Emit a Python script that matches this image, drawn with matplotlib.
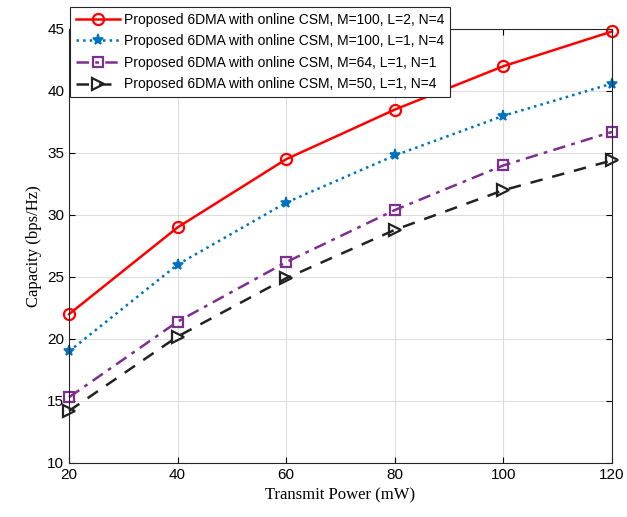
import matplotlib
matplotlib.use("Agg")
import matplotlib.pyplot as plt

power = [20, 40, 60, 80, 100, 120]
cap_m100_l2 = [22.0, 29.0, 34.5, 38.5, 42.0, 44.8]
cap_m100_l1 = [19.0, 26.0, 31.0, 34.8, 38.0, 40.6]
cap_m64_l1 = [15.3, 21.4, 26.2, 30.4, 34.0, 36.7]
cap_m50_l1 = [14.2, 20.2, 24.9, 28.8, 32.0, 34.4]
labels = ["Proposed 6DMA with online CSM, M=100, L=2, N=4",
          "Proposed 6DMA with online CSM, M=100, L=1, N=4",
          "Proposed 6DMA with online CSM, M=64, L=1, N=1",
          "Proposed 6DMA with online CSM, M=50, L=1, N=4"]

plt.rcParams["font.family"] = ["Liberation Sans", "DejaVu Sans"]

fig = plt.figure(figsize=(6.27, 5.17), dpi=100)
ax = fig.add_axes([69 / 627, 1 - 463 / 517, (612 - 69) / 627, (463 - 29) / 517])

ax.plot(power, cap_m100_l2, "-", color="#FF0000", lw=1.8, marker="o", ms=8,
        mfc="none", mew=1.6, label=labels[0], clip_on=False)
ax.plot(power, cap_m100_l1, ":", color="#0072BD", lw=1.8, marker="*", ms=8,
        mew=1.2, label=labels[1], clip_on=False)
ax.plot(power, cap_m64_l1, "-.", color="#7E2F8E", lw=1.8, marker="s", ms=7,
        mfc="none", mew=1.6, label=labels[2], dashes=(5, 2.5, 1.5, 2.5), clip_on=False)
ax.plot(power, cap_m50_l1, "--", color="#222222", lw=1.8, marker=">", ms=8,
        mfc="none", mew=1.6, label=labels[3], dashes=(5, 4), clip_on=False)

ax.set_xlim(20, 120)
ax.set_ylim(10, 45)
ax.set_xticks(power)
ax.set_yticks(range(10, 46, 5))
ax.tick_params(direction="in", top=True, right=True, labelsize=11, length=4)
ax.grid(True, color="#dddddd", lw=0.8)
ax.set_axisbelow(True)
for s in ax.spines.values():
    s.set_color("#262626")
    s.set_linewidth(0.8)

ax.set_xlabel("Transmit Power (mW)", family="Liberation Serif", fontsize=12)
ax.set_ylabel("Capacity (bps/Hz)", family="Liberation Serif", fontsize=12)

leg = ax.legend(loc="upper left", bbox_to_anchor=(70 / 627, 1 - 7 / 517),
                bbox_transform=fig.transFigure, fontsize=10, fancybox=False,
                framealpha=1, edgecolor="#262626", handlelength=3.2,
                labelspacing=0.55, borderaxespad=0, handletextpad=0.3)
leg.get_frame().set_linewidth(0.8)
leg.set_zorder(5)

fig.savefig("out.png", dpi=100)
